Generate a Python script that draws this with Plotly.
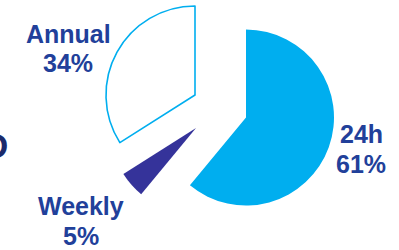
import plotly.graph_objects as go

labels = ["24h", "Weekly", "Annual"]
values = [61, 5, 34]
fills = ["#00AEEF", "#35339A", "#FFFFFF"]
outline = ["#00AEEF", "#35339A", "#00AEEF"]
outline_w = [0, 0, 1.6]

W, H = 399, 250
# pixel centre and radius of each (exploded) slice
slice_geo = {
    "24h": (246, 117.5, 88),
    "Weekly": (196, 128, 86),
    "Annual": (195, 95, 89),
}
# label line centres (px)
label_pos = {
    "24h": (361, 133.5, 164),
    "Weekly": (81, 206, 236),
    "Annual": (68, 34, 63),
}

TEXT_COLOR = "#21409A"
FONT = "Liberation Sans, Arial, sans-serif"

fig = go.Figure()
for i, lab in enumerate(labels):
    cx, cy, r = slice_geo[lab]
    colors = ["rgba(0,0,0,0)"] * len(labels)
    colors[i] = fills[i]
    lw = [0] * len(labels)
    lw[i] = outline_w[i]
    lc = ["rgba(0,0,0,0)"] * len(labels)
    lc[i] = outline[i]
    fig.add_trace(go.Pie(
        labels=labels, values=values, sort=False, direction="clockwise",
        rotation=0, textinfo="none", hoverinfo="skip", showlegend=False,
        marker=dict(colors=colors, line=dict(color=lc, width=lw)),
        domain=dict(x=[(cx - r) / W, (cx + r) / W],
                    y=[1 - (cy + r) / H, 1 - (cy - r) / H]),
    ))

annotations = []
for lab, val in zip(labels, values):
    x, y1, y2 = label_pos[lab]
    for txt, y in ((lab, y1), (f"{val}%", y2)):
        annotations.append(dict(
            text=f"<b>{txt}</b>", x=x / W, y=1 - y / H, xref="paper", yref="paper",
            xanchor="center", yanchor="middle", showarrow=False,
            font=dict(family=FONT, size=25, color=TEXT_COLOR)))
# partially visible text at the left edge (cut off in the reference too)
annotations.append(dict(
    text="<b>D</b>", x=10 / W, y=1 - 145 / H, xref="paper", yref="paper",
    xanchor="right", yanchor="middle", showarrow=False,
    font=dict(family=FONT, size=35, color="#1B2A6B")))

fig.update_layout(
    width=W, height=H, margin=dict(l=0, r=0, t=0, b=0),
    paper_bgcolor="white", plot_bgcolor="white",
    annotations=annotations,
)
fig.write_html(
    "out.html",
    config={"displayModeBar": False, "staticPlot": True},
    post_script="document.body.style.margin='0';document.body.style.overflow='hidden';",
)
